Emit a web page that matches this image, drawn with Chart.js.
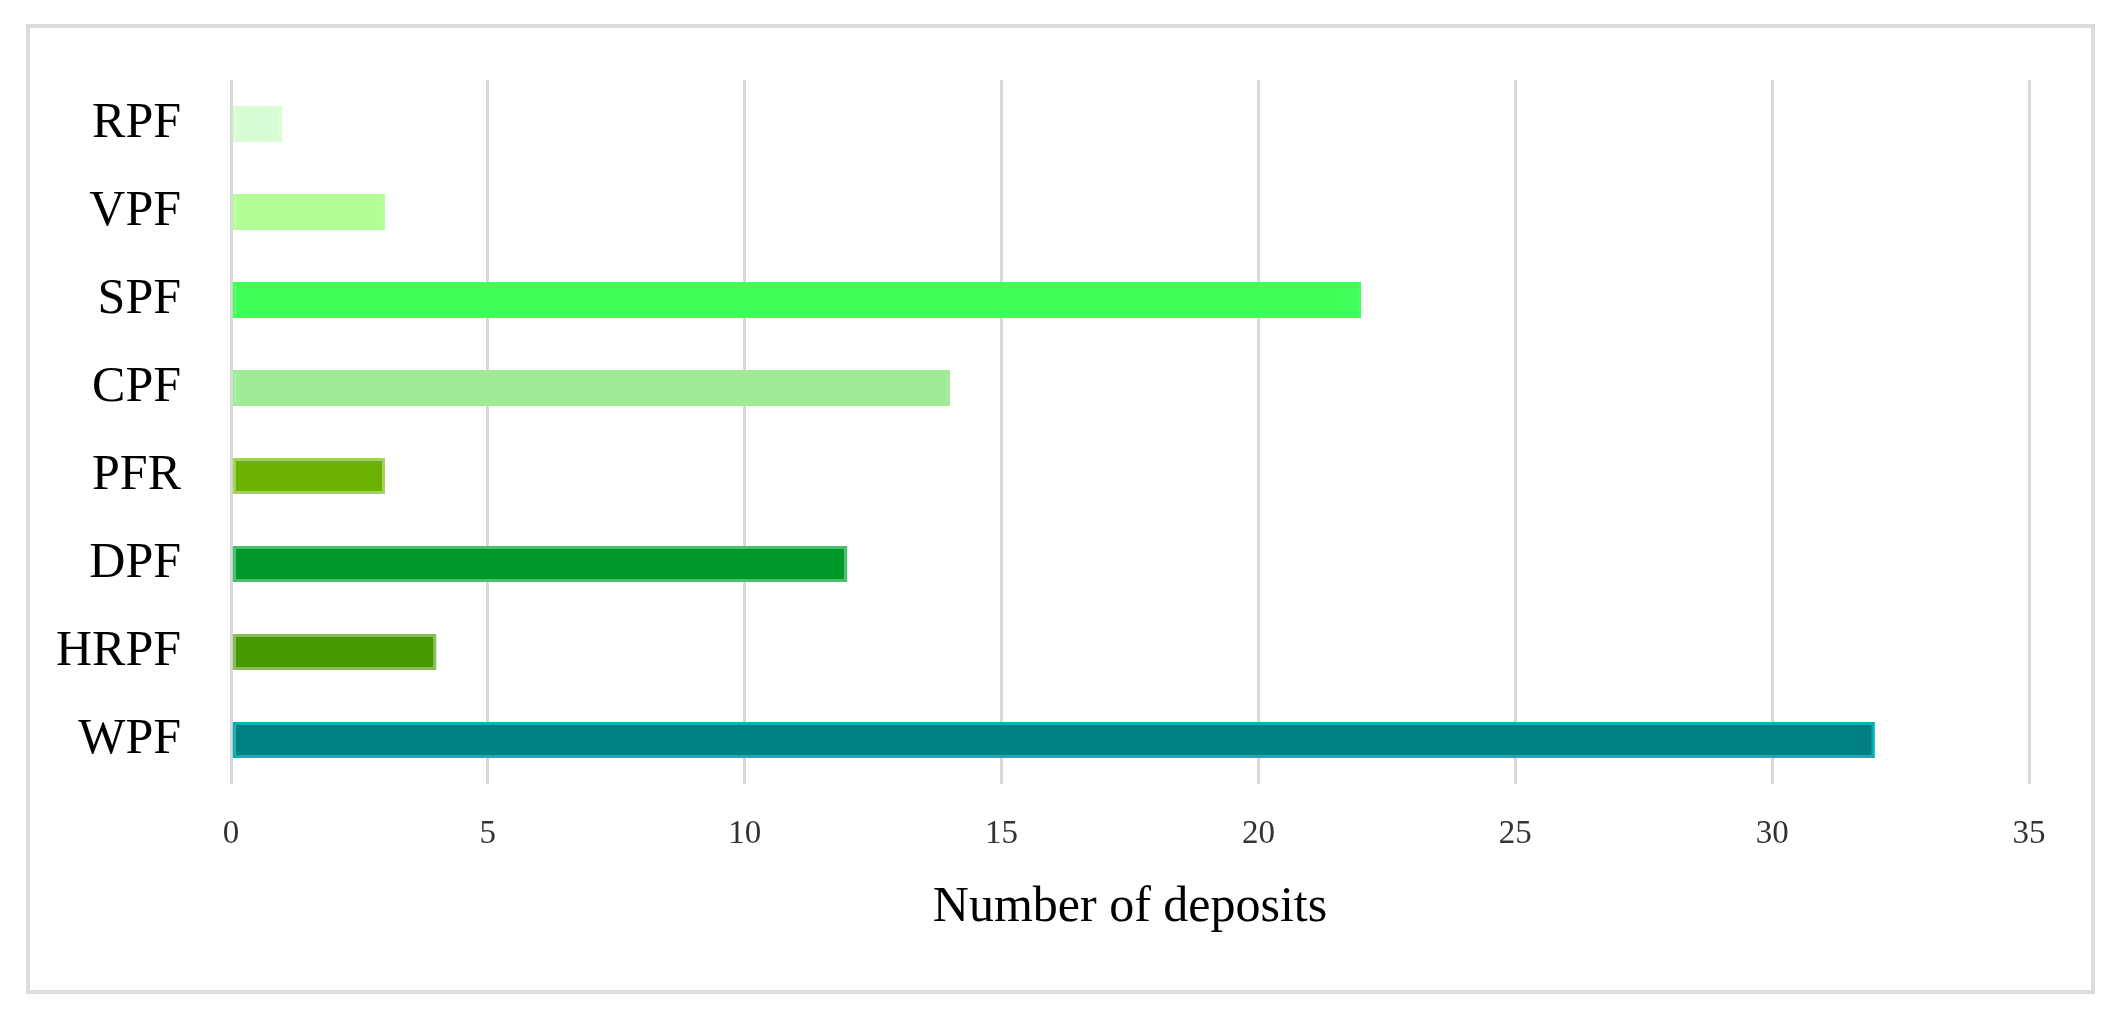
<!DOCTYPE html>
<html>
<head>
<meta charset="utf-8">
<script src="https://cdn.jsdelivr.net/npm/chart.js@4"></script>
<style>
  html, body { margin: 0; padding: 0; background: #fff; }
  #wrap { position: relative; width: 2120px; height: 1017px; }
  #frame {
    position: absolute; left: 26px; top: 24px;
    width: 2061px; height: 962px;
    border: 4px solid #dcdcdc;
  }
  #chart { position: absolute; left: 0; top: 0; }
</style>
</head>
<body>
<div id="wrap">
  <div id="frame"></div>
  <canvas id="chart" width="2120" height="1017"></canvas>
</div>
<script>
// deposit types, top to bottom
const categories = ['RPF', 'VPF', 'SPF', 'CPF', 'PFR', 'DPF', 'HRPF', 'WPF'];
const deposits = [1, 3, 22, 14, 3, 12, 4, 32];
const fillColors = ['#d8fdd4', '#b3ff96', '#40ff58', '#a0eb98', '#6bb200', '#00992a', '#449900', '#008080'];
const edgeColors = ['#d8fdd4', '#b3ff96', '#40ff58', '#a0eb98', '#a3d35a', '#4cbf6c', '#86bf5a', '#00b2b2'];
const xTicks = [0, 5, 10, 15, 20, 25, 30, 35];
const xTitle = 'Number of deposits';

const serif = '"Liberation Serif", "Times New Roman", serif';

const ctx = document.getElementById('chart').getContext('2d');
new Chart(ctx, {
  type: 'bar',
  data: {
    labels: categories,
    datasets: [{
      data: deposits,
      backgroundColor: fillColors,
      borderColor: edgeColors,
      borderWidth: 3,
      borderSkipped: false,
      barPercentage: 0.41,
      categoryPercentage: 1
    }]
  },
  options: {
    indexAxis: 'y',
    responsive: false,
    devicePixelRatio: 1,
    animation: false,
    layout: { padding: { top: 71, right: 91, bottom: 79, left: 0 } },
    plugins: {
      legend: { display: false },
      tooltip: { enabled: false }
    },
    scales: {
      x: {
        min: xTicks[0],
        max: xTicks[xTicks.length - 1],
        afterBuildTicks: (scale) => { scale.ticks = xTicks.map(v => ({ value: v })); },
        afterFit: (scale) => { scale.height = 154; },
        grid: { color: '#d9d9d9', lineWidth: 3, drawTicks: false },
        border: { display: false },
        ticks: {
          padding: 31,
          color: '#333333',
          font: { family: serif, size: 33 }
        },
        title: {
          display: true,
          text: xTitle,
          color: '#000000',
          padding: 0,
          font: { family: serif, size: 50 }
        }
      },
      y: {
        afterFit: (scale) => { scale.width = 231; },
        grid: { display: false, drawTicks: false },
        border: { display: false },
        ticks: {
          padding: 50,
          color: '#000000',
          font: { family: serif, size: 50 }
        }
      }
    }
  }
});
</script>
</body>
</html>
